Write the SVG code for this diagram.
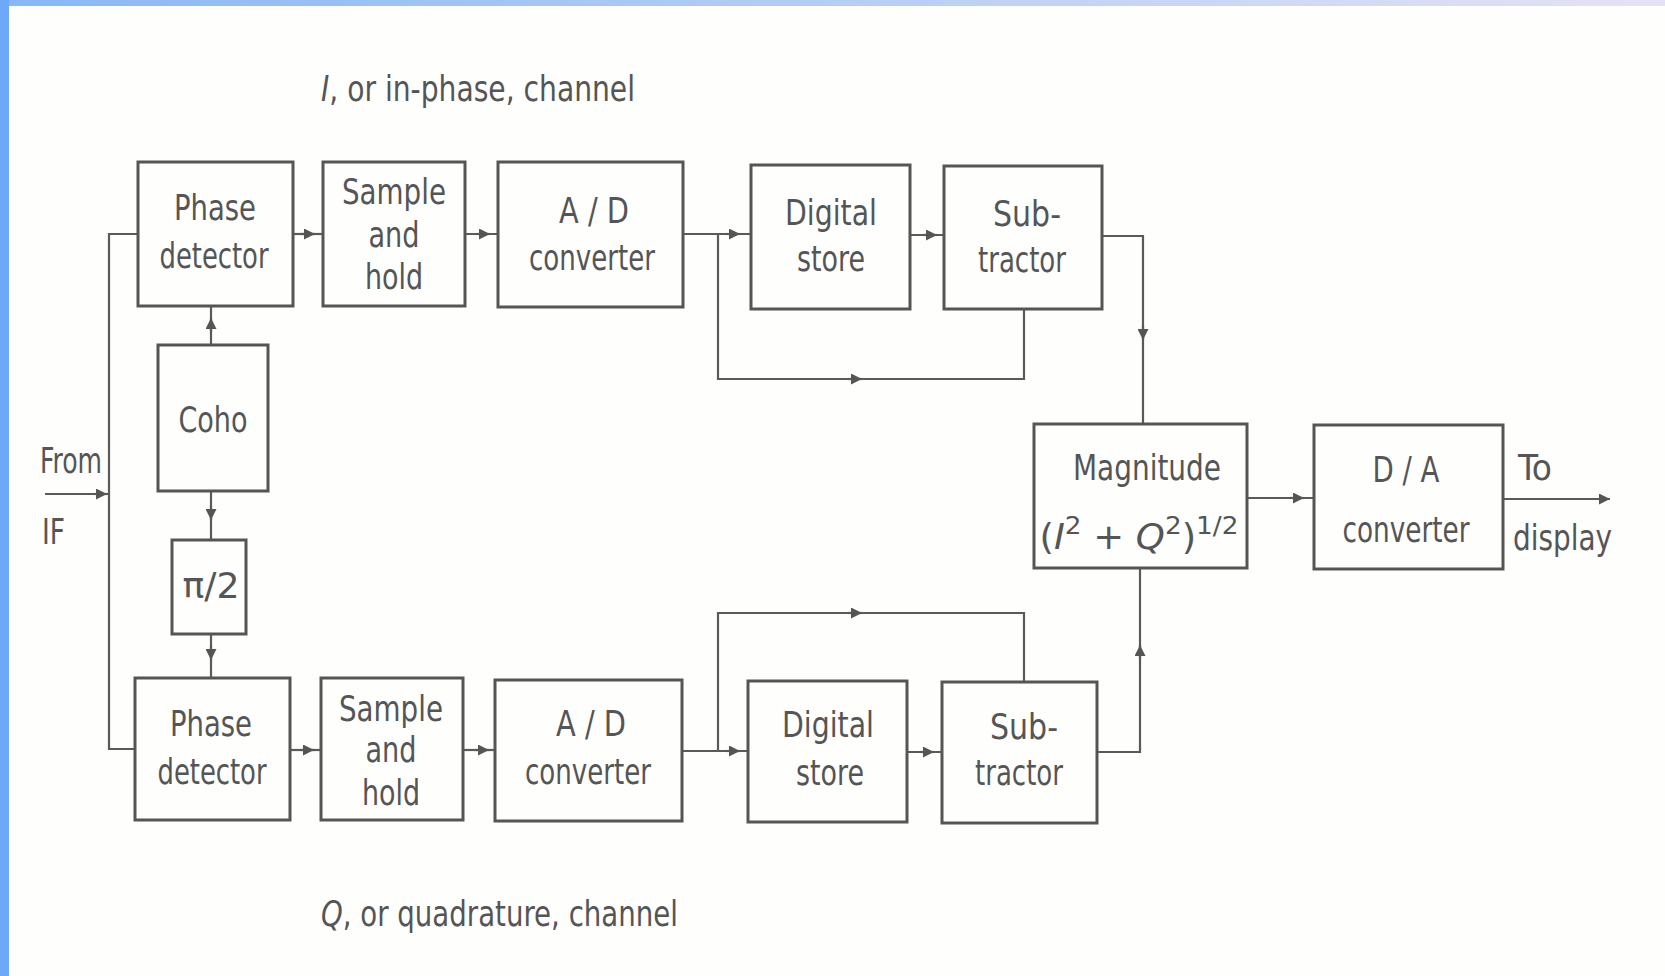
<svg xmlns="http://www.w3.org/2000/svg" width="1665" height="976" viewBox="0 0 1665 976">
<style>
.box{fill:none;stroke:#555;stroke-width:3}
.ln{fill:none;stroke:#5a5a5a;stroke-width:2.2}
.t{font-family:"DejaVu Sans Condensed","DejaVu Sans","Liberation Sans",sans-serif;font-size:35px;fill:#555;text-anchor:middle}
.l{text-anchor:start}
.i{font-style:italic}
</style>
<defs>
<linearGradient id="topg" x1="0" y1="0" x2="1" y2="0">
<stop offset="0" stop-color="#86b8f6"/>
<stop offset="1" stop-color="#e6e2f4"/>
</linearGradient>
<marker id="a" viewBox="0 0 10 10" refX="10" refY="5" markerWidth="14" markerHeight="11" markerUnits="userSpaceOnUse" orient="auto">
<path d="M0,0 L10,5 L0,10 z" fill="#555"/>
</marker>
</defs>
<rect x="0" y="0" width="1665" height="976" fill="#fefefd"/>
<rect x="0" y="0" width="1665" height="6" fill="url(#topg)"/>
<rect x="0" y="0" width="9" height="976" fill="#6ea8f8"/>

<text class="t l" x="321" y="101" textLength="314" lengthAdjust="spacingAndGlyphs"><tspan class="i">I</tspan>, or in-phase, channel</text>
<text class="t l" x="321" y="926" textLength="357" lengthAdjust="spacingAndGlyphs"><tspan class="i">Q</tspan>, or quadrature, channel</text>
<text class="t l" x="40" y="473" textLength="62" lengthAdjust="spacingAndGlyphs">From</text>
<text class="t l" x="42" y="544" textLength="23" lengthAdjust="spacingAndGlyphs">IF</text>
<text class="t l" x="1518" y="480" textLength="34" lengthAdjust="spacingAndGlyphs">To</text>
<text class="t l" x="1513" y="550" textLength="99" lengthAdjust="spacingAndGlyphs">display</text>

<g id="connectors">
<path class="ln" d="M45,494 H109"/>
<path class="ln" d="M94,494 H107" marker-end="url(#a)"/>
<path class="ln" d="M138,234 H109 V749 H135"/>
<path class="ln" d="M211,345 V306"/>
<path class="ln" d="M211,332 V318" marker-end="url(#a)"/>
<path class="ln" d="M211,491 V540"/>
<path class="ln" d="M211,506 V520" marker-end="url(#a)"/>
<path class="ln" d="M211,634 V678"/>
<path class="ln" d="M211,646 V660" marker-end="url(#a)"/>
<path class="ln" d="M293,234 H323"/>
<path class="ln" d="M301,234 H315" marker-end="url(#a)"/>
<path class="ln" d="M465,234 H498"/>
<path class="ln" d="M476,234 H490" marker-end="url(#a)"/>
<path class="ln" d="M683,234 H751"/>
<path class="ln" d="M726,234 H740" marker-end="url(#a)"/>
<path class="ln" d="M718,234 V379 H1024 V309"/>
<path class="ln" d="M848,379 H862" marker-end="url(#a)"/>
<path class="ln" d="M910,235 H944"/>
<path class="ln" d="M923,235 H937" marker-end="url(#a)"/>
<path class="ln" d="M1102,236 H1143 V424"/>
<path class="ln" d="M1143,326 V340" marker-end="url(#a)"/>
<path class="ln" d="M1247,498 H1314"/>
<path class="ln" d="M1290,498 H1304" marker-end="url(#a)"/>
<path class="ln" d="M1503,499 H1610" marker-end="url(#a)"/>
<path class="ln" d="M290,750 H321"/>
<path class="ln" d="M300,750 H314" marker-end="url(#a)"/>
<path class="ln" d="M463,750 H495"/>
<path class="ln" d="M475,750 H489" marker-end="url(#a)"/>
<path class="ln" d="M682,751 H748"/>
<path class="ln" d="M726,751 H740" marker-end="url(#a)"/>
<path class="ln" d="M718,751 V613 H1024 V682"/>
<path class="ln" d="M848,613 H862" marker-end="url(#a)"/>
<path class="ln" d="M907,752 H942"/>
<path class="ln" d="M920,752 H934" marker-end="url(#a)"/>
<path class="ln" d="M1097,752 H1140 V568"/>
<path class="ln" d="M1140,659 V645" marker-end="url(#a)"/>
</g>

<g id="pd1"><rect class="box" x="138" y="162" width="155" height="144"/><text class="t" x="215" y="220" textLength="82" lengthAdjust="spacingAndGlyphs">Phase</text><text class="t" x="214" y="268" textLength="109" lengthAdjust="spacingAndGlyphs">detector</text></g>
<g id="sh1"><rect class="box" x="323" y="162" width="142" height="144"/><text class="t" x="394" y="204" textLength="104" lengthAdjust="spacingAndGlyphs">Sample</text><text class="t" x="394" y="247" textLength="51" lengthAdjust="spacingAndGlyphs">and</text><text class="t" x="394" y="289" textLength="58" lengthAdjust="spacingAndGlyphs">hold</text></g>
<g id="ad1"><rect class="box" x="498" y="162" width="185" height="145"/><text class="t" x="594" y="223" textLength="70" lengthAdjust="spacingAndGlyphs">A / D</text><text class="t" x="592" y="270" textLength="126" lengthAdjust="spacingAndGlyphs">converter</text></g>
<g id="ds1"><rect class="box" x="751" y="165" width="159" height="144"/><text class="t" x="831" y="225" textLength="92" lengthAdjust="spacingAndGlyphs">Digital</text><text class="t" x="831" y="271" textLength="68" lengthAdjust="spacingAndGlyphs">store</text></g>
<g id="sub1"><rect class="box" x="944" y="166" width="158" height="143"/><text class="t" x="1027" y="226" textLength="68" lengthAdjust="spacingAndGlyphs">Sub-</text><text class="t" x="1022" y="272" textLength="88" lengthAdjust="spacingAndGlyphs">tractor</text></g>
<g id="coho"><rect class="box" x="158" y="345" width="110" height="146"/><text class="t" x="213" y="432" textLength="69" lengthAdjust="spacingAndGlyphs">Coho</text></g>
<g id="pi2"><rect class="box" x="172" y="540" width="74" height="94"/><text class="t" x="211" y="598" textLength="57" lengthAdjust="spacingAndGlyphs">π/2</text></g>
<g id="pd2"><rect class="box" x="135" y="678" width="155" height="142"/><text class="t" x="211" y="736" textLength="82" lengthAdjust="spacingAndGlyphs">Phase</text><text class="t" x="212" y="784" textLength="109" lengthAdjust="spacingAndGlyphs">detector</text></g>
<g id="sh2"><rect class="box" x="321" y="678" width="142" height="142"/><text class="t" x="391" y="721" textLength="104" lengthAdjust="spacingAndGlyphs">Sample</text><text class="t" x="391" y="762" textLength="51" lengthAdjust="spacingAndGlyphs">and</text><text class="t" x="391" y="805" textLength="58" lengthAdjust="spacingAndGlyphs">hold</text></g>
<g id="ad2"><rect class="box" x="495" y="680" width="187" height="141"/><text class="t" x="591" y="736" textLength="70" lengthAdjust="spacingAndGlyphs">A / D</text><text class="t" x="588" y="784" textLength="126" lengthAdjust="spacingAndGlyphs">converter</text></g>
<g id="ds2"><rect class="box" x="748" y="681" width="159" height="141"/><text class="t" x="828" y="737" textLength="92" lengthAdjust="spacingAndGlyphs">Digital</text><text class="t" x="830" y="785" textLength="68" lengthAdjust="spacingAndGlyphs">store</text></g>
<g id="sub2"><rect class="box" x="942" y="682" width="155" height="141"/><text class="t" x="1024" y="739" textLength="68" lengthAdjust="spacingAndGlyphs">Sub-</text><text class="t" x="1019" y="785" textLength="88" lengthAdjust="spacingAndGlyphs">tractor</text></g>
<g id="mag"><rect class="box" x="1034" y="424" width="213" height="144"/><text class="t" x="1147" y="480" textLength="148" lengthAdjust="spacingAndGlyphs">Magnitude</text><text class="t" x="1139" y="549" textLength="199" lengthAdjust="spacingAndGlyphs">(<tspan class="i">I</tspan><tspan dy="-15" font-size="25">2</tspan><tspan dy="15"> + </tspan><tspan class="i">Q</tspan><tspan dy="-15" font-size="25">2</tspan><tspan dy="15">)</tspan><tspan dy="-15" font-size="25">1/2</tspan></text></g>
<g id="da"><rect class="box" x="1314" y="425" width="189" height="144"/><text class="t" x="1406" y="482" textLength="67" lengthAdjust="spacingAndGlyphs">D / A</text><text class="t" x="1406" y="542" textLength="127" lengthAdjust="spacingAndGlyphs">converter</text></g>
</svg>
